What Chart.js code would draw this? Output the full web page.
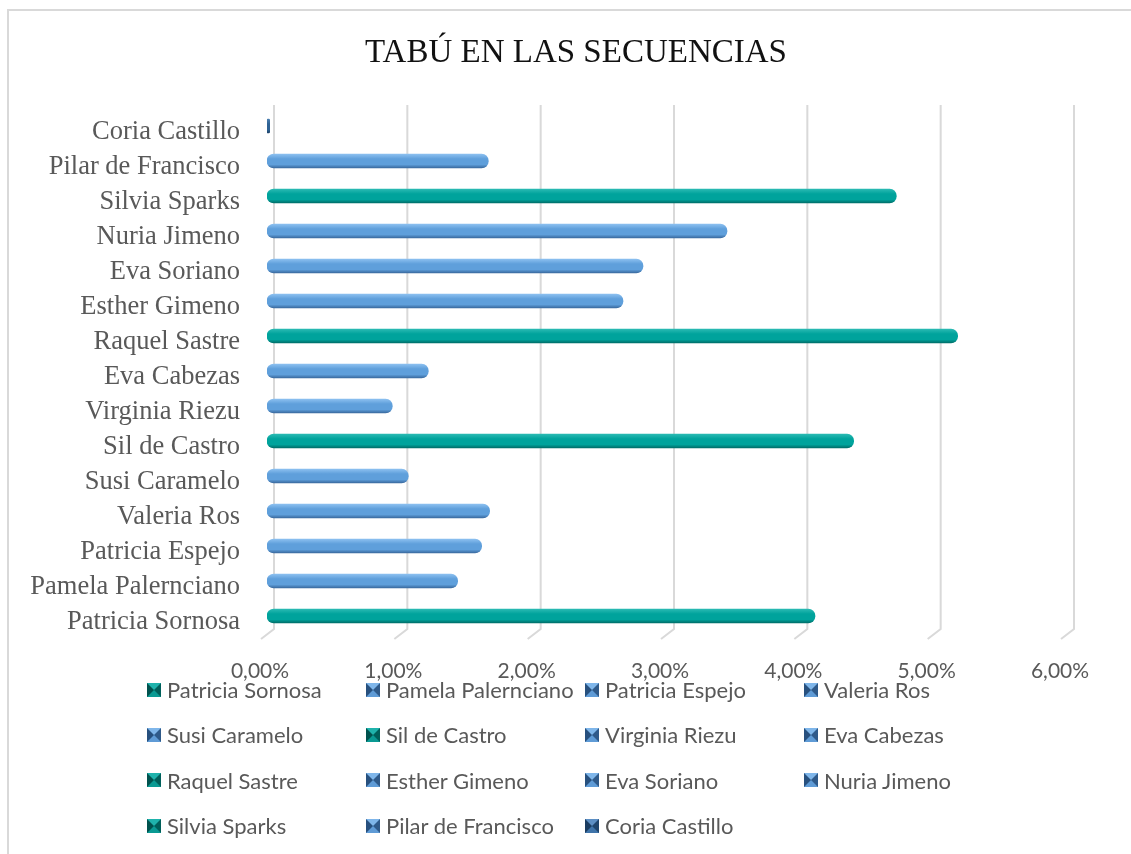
<!DOCTYPE html>
<html>
<head>
<meta charset="utf-8">
<script src="https://cdn.jsdelivr.net/npm/chart.js@4/dist/chart.umd.min.js"></script>
<style>
  html, body { margin: 0; padding: 0; background: #ffffff; }
  #wrap { position: relative; width: 1131px; height: 854px; overflow: hidden; background: #fff; }
  #frame { position: absolute; left: 7px; top: 9px; right: -4px; bottom: -4px; border-left: 2px solid #d9d9d9; border-top: 2px solid #d9d9d9; pointer-events: none; }
  #c { position: absolute; left: 0; top: 0; }
  #legend { position: absolute; left: 147px; top: 667px; display: grid; grid-template-columns: 219px 219px 219px 219px; grid-auto-rows: 45.3px; font-family: Lato, "Open Sans", sans-serif; font-size: 22px; color: #595959; }
  .item { display: flex; align-items: center; white-space: nowrap; }
  .mk { width: 0; height: 0; border-style: solid; border-width: 7px; margin-right: 6px; flex: none; }
</style>
</head>
<body>
<div id="wrap">
  <canvas id="c" width="1131" height="854"></canvas>
  <div id="legend"></div>
  <div id="frame"></div>
</div>
<script>
// ---- data ----
const chartTitle = 'TABÚ EN LAS SECUENCIAS';
const categories = ['Patricia Sornosa', 'Pamela Palernciano', 'Patricia Espejo', 'Valeria Ros', 'Susi Caramelo', 'Sil de Castro', 'Virginia Riezu', 'Eva Cabezas', 'Raquel Sastre', 'Esther Gimeno', 'Eva Soriano', 'Nuria Jimeno', 'Silvia Sparks', 'Pilar de Francisco', 'Coria Castillo'];
const values = [4.11, 1.43, 1.61, 1.67, 1.06, 4.40, 0.94, 1.21, 5.18, 2.67, 2.82, 3.45, 4.72, 1.66, 0.02];
const tickValues = [0, 1, 2, 3, 4, 5, 6];

// ---- styles ----
const palette = {
  teal: { top: '#2bbab3', mid: '#00a39c', bot: '#006e69', mk: ['#1fb3ac', '#005f5a', '#0a9a93', '#00524e'] },
  blue: { top: '#8cc0f0', mid: '#5f9fdb', bot: '#3a6a9f', mk: ['#7fb6ea', '#2f5a8a', '#5f9bd6', '#27507e'] },
  dark: { top: '#4b7fb0', mid: '#2e6294', bot: '#1d4269', mk: ['#5d8fc4', '#1f456d', '#3f74aa', '#1a3c60'] }
};
const colourOf = {
  'Patricia Sornosa': 'teal', 'Sil de Castro': 'teal', 'Raquel Sastre': 'teal', 'Silvia Sparks': 'teal',
  'Coria Castillo': 'dark'
};
const pal = name => palette[colourOf[name] || 'blue'];

function fill(ctx) {
  const p = pal(categories[ctx.dataIndex] || '');
  const ys = ctx.chart.scales && ctx.chart.scales.y;
  if (!ys || ctx.type !== 'data') return p.mid;
  const yc = ys.getPixelForValue(ctx.dataIndex);
  if (!isFinite(yc)) return p.mid;
  const g = ctx.chart.ctx.createLinearGradient(0, yc - 7, 0, yc + 7);
  g.addColorStop(0, p.top);
  g.addColorStop(0.35, p.mid);
  g.addColorStop(0.75, p.mid);
  g.addColorStop(1, p.bot);
  return g;
}

// 3D-like gridlines drawn from the scale's own ticks
const grid3d = {
  id: 'grid3d',
  beforeDatasetsDraw(chart) {
    const xs = chart.scales.x, a = chart.chartArea, c = chart.ctx;
    c.save();
    c.strokeStyle = '#d9d9d9';
    c.lineWidth = 2;
    xs.ticks.forEach(t => {
      const xb = xs.getPixelForValue(t.value) + 7;
      c.beginPath();
      c.moveTo(xb, a.top - 3.5);
      c.lineTo(xb, a.bottom - 4.5);
      c.lineTo(xb - 13, a.bottom + 5.5);
      c.stroke();
    });
    c.restore();
  }
};

new Chart(document.getElementById('c'), {
  type: 'bar',
  data: {
    labels: categories,
    datasets: [{
      label: 'Tabú',
      data: values,
      yAxisID: 'y',
      backgroundColor: fill,
      borderWidth: 0,
      borderRadius: 7,
      borderSkipped: false,
      barThickness: 14
    }]
  },
  plugins: [grid3d],
  options: {
    indexAxis: 'y',
    responsive: false,
    animation: false,
    layout: { padding: { left: 21, right: 0, top: 0, bottom: 0 } },
    plugins: {
      legend: { display: false },
      tooltip: { enabled: false },
      title: {
        display: true,
        text: chartTitle,
        color: '#111111',
        font: { family: '"Liberation Serif", "Times New Roman", serif', size: 33, weight: 'normal', lineHeight: 1.2 },
        padding: { top: 34, bottom: 34.9 }
      }
    },
    scales: {
      x: {
        type: 'linear',
        min: 0,
        max: 6,
        afterBuildTicks: s => { s.ticks = tickValues.map(v => ({ value: v })); },
        afterFit: s => { s.height = 220.5; },
        grid: { display: false, drawTicks: false },
        border: { display: false },
        ticks: {
          padding: 25,
          labelOffset: -7,
          color: '#595959',
          font: { family: 'Lato, "Open Sans", sans-serif', size: 21 },
          callback: v => Number(v).toFixed(2).replace('.', ',') + '%'
        }
      },
      y: {
        reverse: true,
        afterFit: s => { s.width = 246; },
        grid: { display: false, drawTicks: false },
        border: { display: false },
        ticks: {
          padding: 27,
          labelOffset: 6,
          color: '#595959',
          font: { family: '"Liberation Serif", "Times New Roman", serif', size: 26.5 }
        }
      },
      yRight: {
        type: 'category',
        position: 'right',
        afterFit: s => { s.width = 64; },
        grid: { display: false, drawTicks: false },
        border: { display: false },
        ticks: { display: false }
      }
    }
  }
});

// legend (one entry per category, in data order)
const lg = document.getElementById('legend');
categories.forEach(name => {
  const p = pal(name);
  const it = document.createElement('div');
  it.className = 'item';
  const mk = document.createElement('span');
  mk.className = 'mk';
  mk.style.borderColor = p.mk[0] + ' ' + p.mk[1] + ' ' + p.mk[2] + ' ' + p.mk[3];
  const tx = document.createElement('span');
  tx.textContent = name;
  it.appendChild(mk);
  it.appendChild(tx);
  lg.appendChild(it);
});
</script>
</body>
</html>
